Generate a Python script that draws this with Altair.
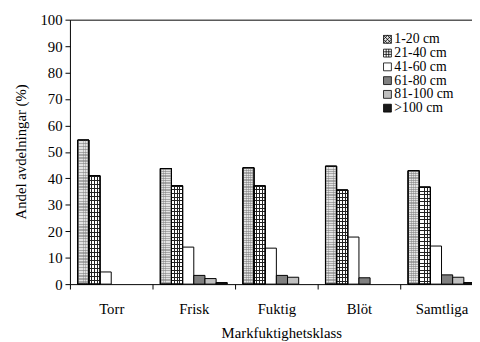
import altair as alt
import pandas as pd

categories = ["Torr", "Frisk", "Fuktig", "Blöt", "Samtliga"]
series = ["1-20 cm", "21-40 cm", "41-60 cm", "61-80 cm", "81-100 cm", ">100 cm"]
v_1_20 = [54.5, 43.7, 44.0, 44.6, 42.9]
v_21_40 = [41.0, 37.2, 37.2, 35.6, 36.7]
v_41_60 = [4.6, 14.0, 13.6, 17.8, 14.4]
v_61_80 = [0.0, 3.3, 3.3, 2.4, 3.5]
v_81_100 = [0.0, 2.1, 2.6, 0.0, 2.6]
v_over_100 = [0.0, 0.6, 0.0, 0.0, 0.6]

fills = ["#e4e4e4", "#ffffff", "#ffffff", "#808080", "#c0c0c0", "#1a1a1a"]
outlines = ["#000000"] * 6
shapes = [
    "M-1,-1H1V1H-1Z M-1,0L0,-1 M-1,1L1,-1 M0,1L1,0 M-1,0L0,1 M-1,-1L1,1 M0,-1L1,0",
    "M-1,-1H1V1H-1Z M-0.33,-1V1 M0.33,-1V1 M-1,-0.33H1 M-1,0.33H1",
    "square", "square", "square", "square",
]

rows = []
for s, vals in zip(series, [v_1_20, v_21_40, v_41_60, v_61_80, v_81_100, v_over_100]):
    for c, v in zip(categories, vals):
        rows.append({"klass": c, "serie": s, "andel": v})
df = pd.DataFrame(rows)

FONT = "Liberation Serif"
CLEAR = "rgba(255,255,255,0)"


def stripes(n, color, vertical, frac, offset=0.0):
    stops = []
    for i in range(n):
        a = (i + offset) / n
        b = min(1.0, a + frac / n)
        stops += [
            {"offset": a, "color": CLEAR},
            {"offset": a, "color": color},
            {"offset": b, "color": color},
            {"offset": b, "color": CLEAR},
        ]
    return {
        "gradient": "linear",
        "x1": 0, "y1": 0,
        "x2": 1 if vertical else 0,
        "y2": 0 if vertical else 1,
        "stops": stops,
    }


xscale = alt.Scale(range=[0, 420], paddingInner=0, paddingOuter=0)
xoff = alt.XOffset("serie:N", sort=series,
                   scale=alt.Scale(domain=series, paddingInner=0, paddingOuter=0.7))
yenc = alt.Y("andel:Q", scale=alt.Scale(domain=[0, 100]),
             axis=alt.Axis(values=list(range(0, 101, 10)), title="Andel avdelningar (%)",
                           tickSize=5, labelPadding=3, grid=False,
                           titleX=-45, titleY=134, titleAngle=270,
                           titleAlign="center", titleBaseline="alphabetic"))

leg = alt.Legend(title=None, orient="none", legendX=316, legendY=13,
                 symbolSize=64, labelFontSize=14, labelOffset=0,
                 rowPadding=0, padding=0, symbolStrokeColor="black",
                 symbolStrokeWidth=0.8, symbolOpacity=1)

base = alt.Chart(df).transform_filter("datum.andel > 0")

bars = base.mark_bar(stroke="black", strokeWidth=1).encode(
    x=alt.X("klass:N", sort=categories, scale=xscale,
            axis=alt.Axis(title="Markfuktighetsklass", tickBand="extent", tickSize=5,
                          labelPadding=13, labelAngle=0,
                          titleX=215, titleY=54, titleAlign="center",
                          titleBaseline="alphabetic")),
    xOffset=xoff,
    y=yenc,
    color=alt.Color("serie:N", sort=series,
                    scale=alt.Scale(domain=series, range=fills), legend=leg),
)

pts = base.mark_point(filled=True, size=1, opacity=0, strokeWidth=0.8).encode(
    x=alt.X("klass:N", sort=categories, scale=xscale, axis=None),
    xOffset=xoff,
    y=yenc,
    shape=alt.Shape("serie:N", sort=series, scale=alt.Scale(domain=series, range=shapes),
                    legend=leg),
    stroke=alt.Stroke("serie:N", sort=series, scale=alt.Scale(domain=series, range=outlines),
                      legend=leg),
)


def overlay(serie, grad, axis=None):
    return base.transform_filter(alt.datum.serie == serie).mark_bar(
        fill=grad, stroke="black", strokeWidth=1
    ).encode(
        x=alt.X("klass:N", sort=categories, scale=xscale, axis=axis),
        xOffset=xoff,
        y=yenc,
    )


o1 = overlay("1-20 cm", stripes(50, "rgba(120,120,120,0.55)", False, 0.5))
o2 = overlay("1-20 cm", stripes(5, "rgba(120,120,120,0.4)", True, 0.35, 0.3))
o3 = overlay("21-40 cm", stripes(27, "#222222", False, 0.28))
o4 = overlay("21-40 cm", stripes(4, "#222222", True, 0.35, 0.83),
             axis=alt.Axis(orient="top", labels=False, ticks=False, title=None, domain=True))

chart = alt.layer(bars, o1, o2, o3, o4, pts).resolve_axis(x="independent").properties(
    width=409, height=269,
    autosize=alt.AutoSizeParams(type="none"),
    padding={"left": 63, "top": 9, "right": 0, "bottom": 56},
).configure_view(stroke=None).configure_axis(
    domainColor="black", tickColor="black", labelColor="black", titleColor="black",
    labelFont=FONT, titleFont=FONT, labelFontSize=15, titleFontSize=15,
    titleFontWeight="normal", domainWidth=1, tickWidth=1,
).configure_legend(
    labelFont=FONT, labelColor="black",
)

chart.save("out.html", embed_options={"renderer": "svg", "actions": False})
